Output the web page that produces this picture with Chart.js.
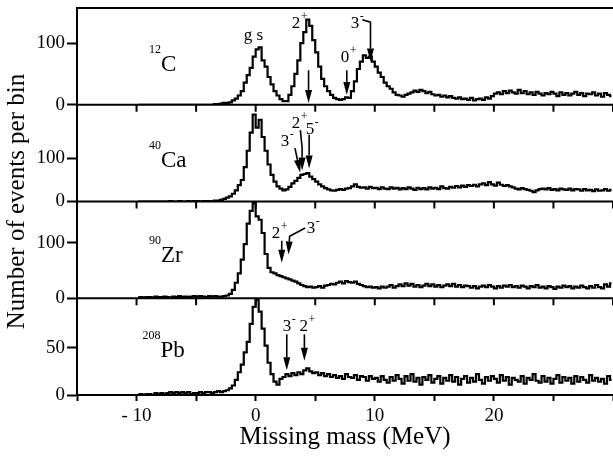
<!DOCTYPE html>
<html><head><meta charset="utf-8">
<script src="https://cdn.jsdelivr.net/npm/chart.js@4/dist/chart.umd.min.js"></script>
<style>html,body{margin:0;padding:0;background:#fff}#wrap{width:613px;height:456px}</style>
</head><body><div id="wrap"><canvas id="c" width="613" height="456"></canvas></div>
<script>
// Histogram bins: missing mass (MeV), 0.25 MeV wide, first bin starts at -10 MeV
const binStart = -10;
const binWidth = 0.25;

// Counts per bin (-10 ... 30 MeV)
const counts12C = [
 0,0,0,0, 0,0,0,0, 0,0,0,0, 0,0,0,0, 0,0,0,0, 0,0,0,0,
 0,0,1,1, 2,3,3,4, 7,10,15,22, 36,48,60,78,
 90,93,72,62, 45,33,22,15, 9,6,6,16, 30,50,72,100,
 118,138,128,105, 85,62,42,30, 22,16,11,9, 8,9,12,11,
 22,38,58,70, 80,76,78,70, 62,52,45,36, 30,26,20,16,
 15,13,16,18, 20,23,21,24, 22,19,21,17, 15,16,13,15,
 12,14,11,10, 12,9,10,8, 11,7,9,10, 8,12,10,14,
 18,20,17,22, 19,23,20,18, 24,19,22,17, 20,16,21,18,
 15,19,17,21, 18,14,20,16, 19,15,18,21, 16,19,14,18,
 17,20,15,18, 13,19,16,14
];
const counts40Ca = [
 0,0,0,0, 0,0,0,0, 0,0,0,1, 0,0,1,0, 0,1,0,1, 1,0,1,1,
 1,0,2,2, 4,6,9,12, 18,26,38,50, 80,118,160,202,
 172,190,150,118, 86,62,46,35, 30,26,28,34, 42,48,55,62,
 64,66,58,52, 46,40,35,31, 28,26,25,27, 29,27,30,31,
 35,40,34,32, 33,30,34,31, 32,29,33,30, 29,33,30,32,
 28,31,29,33, 30,27,32,29, 31,28,33,30, 32,29,35,31,
 30,34,32,36, 33,37,34,38, 36,39,35,40, 42,38,45,40,
 37,44,39,36, 38,35,33,30, 28,31,29,27, 25,22,26,29,
 30,28,31,27, 29,26,30,28, 27,30,26,29, 28,25,29,26,
 27,24,28,25, 26,29,25,27
];
const counts90Zr = [
 1,2,1,2, 2,1,3,2, 2,3,2,1, 3,2,4,2, 3,2,3,4, 3,4,3,2,
 4,3,4,3, 3,4,5,8, 15,28,45,70, 98,135,158,172,
 148,142,118,80, 55,47,45,42, 40,38,36,34, 32,30,27,24,
 22,20,21,19, 20,22,19,23, 24,26,25,28, 30,27,31,29,
 28,30,26,24, 22,20,21,19, 20,18,21,19, 21,24,19,22,
 25,22,27,23, 26,21,24,20, 23,26,22,25, 21,24,20,23,
 25,22,26,21, 24,20,23,22, 19,22,18,21, 23,20,24,21,
 18,22,19,23, 21,24,20,22, 19,23,21,18, 22,20,24,19,
 21,18,22,20, 17,21,19,23, 20,22,18,21, 19,23,20,18,
 22,19,24,20, 18,25,21,27
];
const counts208Pb = [
 0,1,0,1, 1,0,2,1, 2,1,2,3, 2,3,2,3, 2,3,1,2, 2,3,2,3,
 3,2,3,4, 3,4,5,7, 10,16,24,32, 45,56,75,93,
 100,88,70,52, 34,22,14,11, 17,19,22,20, 23,21,24,22,
 26,28,25,23, 24,21,23,20, 22,19,21,18, 20,17,22,19,
 18,21,16,20, 19,15,20,17, 18,14,20,16, 13,19,15,21,
 17,12,20,15, 22,14,18,11, 19,16,21,13, 17,20,12,18,
 15,21,14,19, 11,17,20,13, 18,14,22,16, 12,19,15,20,
 17,13,21,15, 19,11,18,16, 14,20,12,18, 16,22,15,13,
 20,14,18,12, 17,21,13,19, 15,18,12,20, 14,19,16,13,
 21,15,18,14, 17,12,20,16
];

// Tick labels
const xTickValues = [-10, 0, 10, 20];
const xTickLabels = ['- 10', '0', '10', '20'];
const yTicks12C = [0, 100];
const yTicks40Ca = [0, 100];
const yTicks90Zr = [0, 100];
const yTicks208Pb = [0, 50];

// Panel labels and state annotations (data coordinates: MeV, counts)
const nucleusLabels = [
  {axis:'yC',  mass:'12',  symbol:'C',  x:-7.95, y:54},
  {axis:'yCa', mass:'40',  symbol:'Ca', x:-7.95, y:81},
  {axis:'yZr', mass:'90',  symbol:'Zr', x:-7.95, y:66},
  {axis:'yPb', mass:'208', symbol:'Pb', x:-8.0,  y:40}
];
const stateLabels = [
  {axis:'yC',  text:'g s', sup:'',  x:-1.0, y:105},
  {axis:'yC',  text:'2',   sup:'+', x:3.02, y:125},
  {axis:'yC',  text:'0',   sup:'+', x:7.14, y:69},
  {axis:'yC',  text:'3',   sup:'-', x:7.98, y:125},
  {axis:'yCa', text:'2',   sup:'+', x:3.02, y:172},
  {axis:'yCa', text:'5',   sup:'-', x:4.2,  y:158},
  {axis:'yCa', text:'3',   sup:'-', x:2.1,  y:130},
  {axis:'yZr', text:'2',   sup:'+', x:1.34, y:109},
  {axis:'yZr', text:'3',   sup:'-', x:4.28, y:118},
  {axis:'yPb', text:'3',   sup:'-', x:2.27, y:68},
  {axis:'yPb', text:'2',   sup:'+', x:3.69, y:68}
];
const arrows = [
  {axis:'yC',  path:[[4.44,56],[4.44,3]]},
  {axis:'yC',  path:[[7.65,56],[7.65,16]]},
  {axis:'yC',  path:[[8.95,138],[9.64,134],[9.64,70]]},
  {axis:'yCa', path:[[3.3,124],[3.74,67]]},
  {axis:'yCa', path:[[3.75,166],[3.9,125],[3.9,72]]},
  {axis:'yCa', path:[[4.49,155],[4.49,77]]},
  {axis:'yZr', path:[[2.19,104],[2.19,64]]},
  {axis:'yZr', path:[[4.15,127],[2.85,112],[2.75,79]]},
  {axis:'yPb', path:[[2.61,64],[2.61,26]]},
  {axis:'yPb', path:[[4.09,64],[4.09,36]]}
];

const FONT = '"Liberation Serif", "Times New Roman", serif';
const toPoints = counts => counts.map((v, i) => ({x: binStart + binWidth * (i + 0.5), y: v}));

function ds(counts, axis) {
  return {data: toPoints(counts), yAxisID: axis, borderColor: '#000', borderWidth: 2.2,
          pointRadius: 0, stepped: 'middle', fill: false, tension: 0};
}

function yAxis(maxVal, tickList) {
  return {
    type: 'linear', position: 'left', stack: 'panels', stackWeight: 1,
    min: 0, max: maxVal,
    afterBuildTicks: s => { s.ticks = tickList.map(v => ({value: v})); },
    afterFit: s => { s.width = 43; s.paddingTop = 0; s.paddingBottom = 0; },
    ticks: {color: '#000', font: {family: FONT, size: 19}, padding: 2},
    grid: {display: true, drawOnChartArea: false, drawTicks: true, tickLength: 10, tickWidth: 2, tickColor: '#000'},
    border: {display: true, color: '#000', width: 2}
  };
}

const frame = {
  id: 'frame',
  afterDraw(chart) {
    const {ctx, chartArea: a, scales} = chart;
    const xs = scales.x;
    const ln = (x1, y1, x2, y2) => { ctx.beginPath(); ctx.moveTo(x1, y1); ctx.lineTo(x2, y2); ctx.stroke(); };
    ctx.save();
    ctx.strokeStyle = '#000'; ctx.fillStyle = '#000'; ctx.lineWidth = 2;
    ln(a.left - 1, scales.yC.top, a.right, scales.yC.top);
    ['yC', 'yCa', 'yZr'].forEach(id => {
      const yb = scales[id].getPixelForValue(0);
      ln(a.left - 1, yb, a.right, yb);
      xs.ticks.forEach(t => { const px = xs.getPixelForValue(t.value); ln(px, yb, px, yb + 7); });
    });
    // nucleus labels
    ctx.textBaseline = 'alphabetic';
    nucleusLabels.forEach(l => {
      const px = xs.getPixelForValue(l.x), py = scales[l.axis].getPixelForValue(l.y);
      ctx.font = '23px ' + FONT; ctx.textAlign = 'left';
      ctx.fillText(l.symbol, px, py);
      ctx.font = '12px ' + FONT; ctx.textAlign = 'right';
      ctx.fillText(l.mass, px, py - 18);
    });
    // state labels
    stateLabels.forEach(l => {
      const px = xs.getPixelForValue(l.x), py = scales[l.axis].getPixelForValue(l.y);
      ctx.font = '17px ' + FONT; ctx.textAlign = 'left';
      ctx.fillText(l.text, px, py);
      const w = ctx.measureText(l.text).width;
      if (l.sup) { ctx.font = '12px ' + FONT; ctx.fillText(l.sup, px + w + 0.5, py - 8); }
    });
    // arrows
    ctx.lineWidth = 1.6;
    arrows.forEach(ar => {
      const pts = ar.path.map(p => [xs.getPixelForValue(p[0]), scales[ar.axis].getPixelForValue(p[1])]);
      const n = pts.length, tip = pts[n - 1], prev = pts[n - 2];
      const dx = tip[0] - prev[0], dy = tip[1] - prev[1], L = Math.hypot(dx, dy);
      const ux = dx / L, uy = dy / L, hl = 13, hw = 3.5;
      const bx = tip[0] - ux * hl, by = tip[1] - uy * hl;
      ctx.beginPath(); ctx.moveTo(pts[0][0], pts[0][1]);
      for (let i = 1; i < n - 1; i++) ctx.lineTo(pts[i][0], pts[i][1]);
      ctx.lineTo(bx, by); ctx.stroke();
      ctx.beginPath(); ctx.moveTo(tip[0], tip[1]);
      ctx.lineTo(bx - uy * hw, by + ux * hw); ctx.lineTo(bx + uy * hw, by - ux * hw);
      ctx.closePath(); ctx.fill();
    });
    ctx.restore();
  }
};

new Chart(document.getElementById('c'), {
  type: 'line',
  data: {datasets: [ds(counts208Pb, 'yPb'), ds(counts90Zr, 'yZr'), ds(counts40Ca, 'yCa'), ds(counts12C, 'yC')]},
  options: {
    responsive: false, animation: false, devicePixelRatio: 1,
    layout: {padding: {top: 8, right: 0, left: 0, bottom: 0}},
    plugins: {legend: {display: false}, tooltip: {enabled: false}},
    scales: {
      x: {
        type: 'linear', position: 'bottom', min: -15, max: 30,
        afterFit: s => { s.height = 61; s.paddingLeft = 0; s.paddingRight = 0; },
        ticks: {stepSize: 5, autoSkip: false, maxRotation: 0, padding: 4, color: '#000',
                font: {family: FONT, size: 19},
                callback: v => { const i = xTickValues.indexOf(v); return i >= 0 ? xTickLabels[i] : ''; }},
        grid: {display: true, drawOnChartArea: false, drawTicks: true, tickLength: 6, tickWidth: 2, tickColor: '#000'},
        border: {display: true, color: '#000', width: 2},
        title: {display: true, text: 'Missing mass (MeV)', color: '#000', font: {family: FONT, size: 25}, padding: {top: 0, bottom: 4}}
      },
      yTitle: {
        type: 'linear', position: 'left', weight: 10,
        afterFit: s => { s.width = 34; s.paddingTop = 0; s.paddingBottom = 0; },
        ticks: {display: false}, grid: {display: false, drawTicks: false}, border: {display: false},
        title: {display: true, text: 'Number of events per bin', color: '#000', font: {family: FONT, size: 25}, padding: {top: 2, bottom: 0}}
      },
      yPb: yAxis(102, yTicks208Pb),
      yZr: yAxis(175, yTicks90Zr),
      yCa: yAxis(225, yTicks40Ca),
      yC: yAxis(157, yTicks12C)
    }
  },
  plugins: [frame]
});
</script>
</body></html>
